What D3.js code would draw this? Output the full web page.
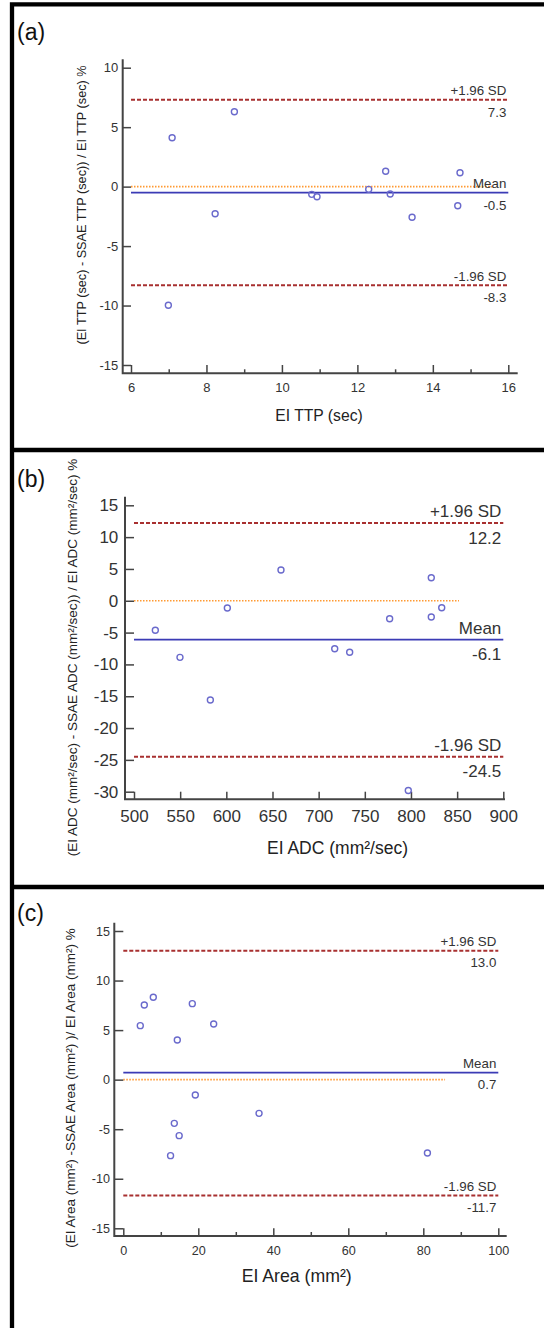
<!DOCTYPE html>
<html>
<head>
<meta charset="utf-8">
<script src="https://cdn.jsdelivr.net/npm/d3@7"></script>
<style>
  body { margin: 0; background: #fff; }
  svg { display: block; }
</style>
</head>
<body>
<div id="chart"></div>
<script>
// (a) time to peak
const ttpX = [7.09, 8.74, 8.23, 6.99, 10.79, 10.93, 12.30, 12.75, 12.87, 13.45, 14.66, 14.72];
const ttpY = [4.11, 6.30, -2.28, -9.98, -0.65, -0.85, -0.23, 1.29, -0.62, -2.58, -1.61, 1.17];
const ttpStats = [7.3, -0.5, -8.3]; // +1.96 SD, mean, -1.96 SD
const ttpZeroEnd = 15.6;
const ttpXTicks = [6, 8, 10, 12, 14, 16];
const ttpXMinor = [7, 9, 11, 13, 15];
const ttpYTicks = [10, 5, 0, -5, -10, -15];

// (b) ADC
const adcX = [523.1, 549.8, 582.7, 601.1, 659.2, 717.4, 733.6, 776.9, 797.1, 822.0, 822.0, 833.3];
const adcY = [-4.64, -8.89, -15.6, -1.14, 4.83, -7.53, -8.10, -2.82, -29.8, 3.62, -2.55, -1.09];
const adcStats = [12.2, -6.1, -24.5];
const adcZeroEnd = 852;
const adcXTicks = [500, 550, 600, 650, 700, 750, 800, 850, 900];
const adcXMinor = [];
const adcYTicks = [15, 10, 5, 0, -5, -10, -15, -20, -25, -30];

// (c) area
const areaX = [4.53, 5.6, 8.0, 14.4, 18.4, 24.1, 19.2, 36.2, 13.6, 14.9, 12.6, 81.1];
const areaY = [5.45, 7.53, 8.31, 4.0, 7.67, 5.62, -1.55, -3.4, -4.41, -5.65, -7.67, -7.4];
const areaStats = [13.0, 0.7, -11.7];
const areaZeroEnd = 85.8;
const areaXTicks = [0, 20, 40, 60, 80, 100];
const areaXMinor = [10, 30, 50, 70, 90];
const areaYTicks = [15, 10, 5, 0, -5, -10, -15];

const statNames = ["+1.96 SD", "Mean", "-1.96 SD"];

const width = 544;
const height = 1328;

const loc = d3.formatLocale({decimal: ".", thousands: ",", grouping: [3], currency: ["", ""], minus: "-"});
const f1 = loc.format(".1f");
const f0 = loc.format("d");

const svg = d3.select("#chart").append("svg")
    .attr("width", width)
    .attr("height", height);

const panels = [
  {
    label: "(a)", labelY: 40, xs: ttpX, ys: ttpY, stats: ttpStats, zeroEnd: ttpZeroEnd,
    xTicks: ttpXTicks, xMinor: ttpXMinor, yTicks: ttpYTicks,
    xTitle: "EI TTP (sec)", yTitle: "(EI TTP (sec) - SSAE TTP (sec)) / EI TTP (sec) %",
    xRange: [131, 508.3], yRange: [365, 67.7], yAxisX: 122.7, xAxisY: 373.3, axisTop: 59.3, axisEnd: 517.7,
    tickFont: 13, yPad: 4.4, xPad: 9.2, statFont: 13.3, above: 4.5, below: 17,
    xTitleX: 319, xTitleY: 421, xTitleFont: 15.7, yTitleX: 82, yTitleY: 205, yTitleFont: 12.7
  },
  {
    label: "(b)", labelY: 487, xs: adcX, ys: adcY, stats: adcStats, zeroEnd: adcZeroEnd,
    xTicks: adcXTicks, xMinor: adcXMinor, yTicks: adcYTicks,
    xTitle: "EI ADC (mm²/sec)", yTitle: "(EI ADC (mm²/sec) - SSAE ADC (mm²/sec)) / EI ADC (mm²/sec) %",
    xRange: [134, 503.3], yRange: [791.7, 505.3], yAxisX: 125, xAxisY: 799.3, axisTop: 496.7, axisEnd: 505,
    tickFont: 17, yPad: 6.7, xPad: 10.3, statFont: 17, above: 6, below: 20.5,
    xTitleX: 337.5, xTitleY: 854, xTitleFont: 17.5, yTitleX: 72, yTitleY: 657.5, yTitleFont: 13.5
  },
  {
    label: "(c)", labelY: 921, xs: areaX, ys: areaY, stats: areaStats, zeroEnd: areaZeroEnd,
    xTicks: areaXTicks, xMinor: areaXMinor, yTicks: areaYTicks,
    xTitle: "EI Area (mm²)", yTitle: "(EI Area (mm²) -SSAE Area (mm²) )/ EI Area (mm²) %",
    xRange: [123.3, 498.3], yRange: [1228.3, 931], yAxisX: 114.3, xAxisY: 1236, axisTop: 922.7, axisEnd: 506.7,
    tickFont: 12.6, yPad: 4.3, xPad: 10, statFont: 13.3, above: 5, below: 16.5,
    xTitleX: 296.7, xTitleY: 1282, xTitleFont: 17.7, yTitleX: 70.7, yTitleY: 1088, yTitleFont: 13.5
  }
];

const axisColor = "#444";
const textColor = "#333";
const fontFamily = "'Liberation Sans', Arial, sans-serif";

function drawPanel(p) {
  const g = svg.append("g");

  const x = d3.scaleLinear()
      .domain(d3.extent(p.xTicks))
      .range(p.xRange);
  const y = d3.scaleLinear()
      .domain(d3.extent(p.yTicks))
      .range(p.yRange);

  // Reference lines: SD limits dashed red, mean solid blue, zero dotted orange
  g.append("line")
      .attr("x1", x.range()[0]).attr("x2", x(p.zeroEnd))
      .attr("y1", y(0)).attr("y2", y(0))
      .attr("stroke", "#ff9a33").attr("stroke-width", 1.6)
      .attr("stroke-dasharray", "1.5,1.5");

  p.stats.forEach((v, i) => {
    g.append("line")
        .attr("x1", x.range()[0]).attr("x2", x.range()[1])
        .attr("y1", y(v)).attr("y2", y(v))
        .attr("stroke", i === 1 ? "#3b3bb5" : "#a83030")
        .attr("stroke-width", i === 1 ? 1.8 : 2)
        .attr("stroke-dasharray", i === 1 ? null : "4,2");

    g.append("text")
        .attr("x", x.range()[1] - 2)
        .attr("y", y(v) - p.above)
        .attr("text-anchor", "end")
        .attr("font-size", p.statFont)
        .attr("fill", textColor)
        .text(statNames[i]);

    g.append("text")
        .attr("x", x.range()[1] - 2)
        .attr("y", y(v) + p.below)
        .attr("text-anchor", "end")
        .attr("font-size", p.statFont)
        .attr("fill", textColor)
        .text(f1(v));
  });

  // Y axis (ticks pointing inward)
  const yAx = g.append("g")
      .attr("transform", `translate(${p.yAxisX},0)`)
      .call(d3.axisLeft(y).tickValues(p.yTicks).tickFormat(f0)
              .tickSizeInner(-(x.range()[0] - p.yAxisX)).tickSizeOuter(0).tickPadding(p.yPad));
  // X axis
  const xAx = g.append("g")
      .attr("transform", `translate(0,${p.xAxisY})`)
      .call(d3.axisBottom(x).tickValues(p.xTicks).tickFormat(f0)
              .tickSizeInner(-(p.xAxisY - y.range()[0])).tickSizeOuter(0).tickPadding(p.xPad));
  if (p.xMinor.length) {
    g.append("g")
        .attr("transform", `translate(0,${p.xAxisY})`)
        .call(d3.axisBottom(x).tickValues(p.xMinor).tickFormat("")
                .tickSizeInner(-4).tickSizeOuter(0))
        .call(a => a.select(".domain").remove());
  }
  g.selectAll(".domain").remove();
  g.selectAll(".tick line").attr("stroke", axisColor).attr("stroke-width", 1.5);
  g.selectAll(".tick text")
      .attr("fill", textColor)
      .attr("font-family", fontFamily)
      .attr("font-size", p.tickFont);

  g.append("path")
      .attr("d", `M${p.yAxisX},${p.axisTop}V${p.xAxisY}H${p.axisEnd}`)
      .attr("fill", "none")
      .attr("stroke", axisColor)
      .attr("stroke-width", 2);

  // Points
  g.selectAll("circle.pt")
      .data(p.xs.map((v, i) => [v, p.ys[i]]))
      .join("circle")
      .attr("class", "pt")
      .attr("cx", d => x(d[0]))
      .attr("cy", d => y(d[1]))
      .attr("r", 3)
      .attr("fill", "none")
      .attr("stroke", "#6a6acc")
      .attr("stroke-width", 1.4);

  // Titles
  g.append("text")
      .attr("x", p.xTitleX)
      .attr("y", p.xTitleY)
      .attr("text-anchor", "middle")
      .attr("font-size", p.xTitleFont)
      .attr("fill", "#222")
      .text(p.xTitle);

  g.append("text")
      .attr("transform", `translate(${p.yTitleX},${p.yTitleY}) rotate(-90)`)
      .attr("text-anchor", "middle")
      .attr("dy", "0.35em")
      .attr("font-size", p.yTitleFont)
      .attr("fill", "#222")
      .text(p.yTitle);

  g.append("text")
      .attr("x", 17)
      .attr("y", p.labelY)
      .attr("font-size", 23)
      .attr("fill", "#111")
      .text(p.label);

  g.selectAll("text").attr("font-family", fontFamily);
}

panels.forEach(drawPanel);

// Frame around the panels
svg.append("path")
    .attr("d", "M12,1328V4.3H544M10,450H544M10,887H544")
    .attr("fill", "none")
    .attr("stroke", "#000")
    .attr("stroke-width", 4.3);
</script>
</body>
</html>
